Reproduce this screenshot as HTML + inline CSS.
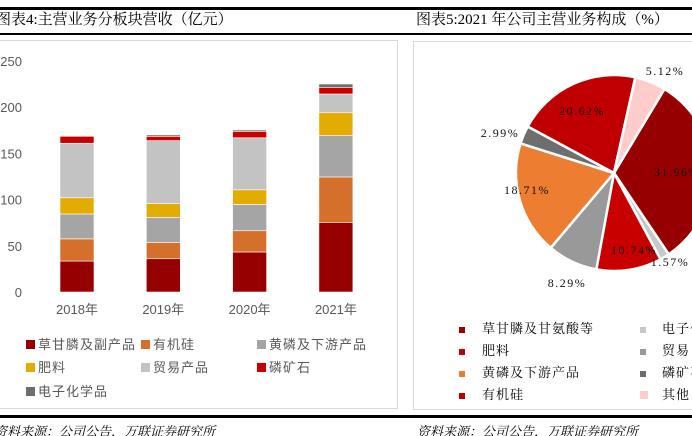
<!DOCTYPE html>
<html><head><meta charset="utf-8"><style>
body{margin:0;width:692px;height:436px;overflow:hidden;background:#fff;position:relative;font-family:"Liberation Serif","Noto Serif CJK SC",serif}
.abs{position:absolute}
.title{position:absolute;top:10px;font-size:15px;color:#000;white-space:nowrap;line-height:20px}
.leg{position:absolute;font-size:13px;color:#595959;white-space:nowrap;letter-spacing:1px;font-family:"Liberation Sans","Noto Sans CJK SC",sans-serif}
.leg i{display:inline-block;width:9px;height:9px;margin-right:3px;vertical-align:0px}
.rleg{position:absolute;font-size:13px;color:#000;white-space:nowrap;letter-spacing:1px;font-family:"Liberation Serif","Noto Serif CJK SC",serif}
.src{position:absolute;top:421px;font-size:13px;font-style:italic;color:#000;white-space:nowrap}
#clip{position:absolute;left:0;top:0;width:692px;height:436px;overflow:hidden}
</style></head><body>
<div id="clip">
<div class="abs" style="left:0;top:7px;width:692px;height:3px;background:#000"></div>
<div class="abs" style="left:0;top:33px;width:692px;height:2px;background:#000"></div>
<div class="title" style="left:-4px">图表4:主营业务分板块营收（亿元）</div>
<div class="title" style="left:416px">图表5:2021 年公司主营业务构成（%）</div>
<div class="abs" style="left:-2px;top:40px;width:398px;height:367px;border:1px solid #d9d9d9"></div>
<div class="abs" style="left:413px;top:41px;width:279px;height:367px;border:1px solid #d9d9d9;border-right:none"></div>
<div class="abs" style="left:0;top:415px;width:692px;height:3px;background:#000"></div>
<div class="src" style="left:-6px">资料来源：公司公告，万联证券研究所</div>
<div class="src" style="left:417px">资料来源：公司公告，万联证券研究所</div>

<svg class="abs" style="left:0;top:0" width="692" height="436" id="chart"></svg>

<div class="leg" style="left:26px;top:334px"><i style="background:#960000"></i>草甘膦及副产品</div>
<div class="leg" style="left:141px;top:334px"><i style="background:#D4702C"></i>有机硅</div>
<div class="leg" style="left:257px;top:334px"><i style="background:#A5A5A5"></i>黄磷及下游产品</div>
<div class="leg" style="left:26px;top:357px"><i style="background:#E2AC00"></i>肥料</div>
<div class="leg" style="left:141px;top:357px"><i style="background:#C3C3C3"></i>贸易产品</div>
<div class="leg" style="left:257px;top:357px"><i style="background:#C80000"></i>磷矿石</div>
<div class="leg" style="left:26px;top:381px"><i style="background:#6E6E6E"></i>电子化学品</div>

<div class="rleg" style="left:459px;top:318px"><span style="display:inline-block;width:6px;height:6px;background:#960000;margin-right:17px"></span>草甘膦及甘氨酸等</div>
<div class="rleg" style="left:459px;top:340px"><span style="display:inline-block;width:6px;height:6px;background:#C80000;margin-right:17px"></span>肥料</div>
<div class="rleg" style="left:459px;top:362px"><span style="display:inline-block;width:6px;height:6px;background:#ED7D31;margin-right:17px"></span>黄磷及下游产品</div>
<div class="rleg" style="left:459px;top:384px"><span style="display:inline-block;width:6px;height:6px;background:#C00000;margin-right:17px"></span>有机硅</div>
<div class="rleg" style="left:640px;top:318px"><span style="display:inline-block;width:6px;height:6px;background:#C8C8C8;margin-right:16px"></span>电子化学品</div>
<div class="rleg" style="left:640px;top:340px"><span style="display:inline-block;width:6px;height:6px;background:#999;margin-right:16px"></span>贸易</div>
<div class="rleg" style="left:640px;top:362px"><span style="display:inline-block;width:6px;height:6px;background:#6E6E6E;margin-right:16px"></span>磷矿石</div>
<div class="rleg" style="left:640px;top:384px"><span style="display:inline-block;width:8px;height:8px;background:#FFCCCC;margin-right:14px"></span>其他</div>
</div>

<script>
const years = ["2018年","2019年","2020年","2021年"];
const glyphosate = [33.5,36,43.3,75.4];
const silicone = [24,17.4,23,49.1];
const yellowP = [27,27.4,28.5,44.7];
const fertilizer = [17.5,14.8,15.8,24.8];
const trade = [59,68.2,56.3,20.3];
const rock = [7.5,4.7,7,6.8];
const electronic = [0,1.5,1.4,4];
const yTicks = [0,50,100,150,200,250];

const pieLabels = ["31.96%","1.57%","10.74%","8.29%","18.71%","2.99%","20.62%","5.12%"];
const pieValues = [31.96,1.57,10.74,8.29,18.71,2.99,20.62,5.12];

const NS="http://www.w3.org/2000/svg";
const svg=document.getElementById('chart');
function mk(tag,attrs){const e=document.createElementNS(NS,tag);for(const k in attrs)e.setAttribute(k,attrs[k]);svg.appendChild(e);return e;}

const y0=292, pxPer=231/250;
const yScale=v=>y0-v*pxPer;
const xCenter=i=>77+i*86.3;
const barW=34;
yTicks.forEach(t=>{
  const tx=mk('text',{x:22,y:yScale(t)+5,'text-anchor':'end','font-size':13,fill:'#595959','font-family':'Liberation Sans, sans-serif'});
  tx.textContent=t;
  
  
});
years.forEach((y,i)=>{
  const tx=mk('text',{x:xCenter(i),y:314,'text-anchor':'middle','font-size':13,fill:'#595959','font-family':'Liberation Sans, Noto Sans CJK SC, sans-serif'});
  tx.textContent=y;
  
  
});
const series=[[glyphosate,'#960000','glyphosate'],[silicone,'#D4702C','silicone'],[yellowP,'#A5A5A5','yellow-phosphorus'],[fertilizer,'#E2AC00','fertilizer'],[trade,'#C3C3C3','trade'],[rock,'#C80000','phosphate-rock'],[electronic,'#6E6E6E','electronic-chem']];
years.forEach((y,i)=>{
  let cum=0;
  series.forEach(([arr,col,nm])=>{
    const v=arr[i]; if(v<=0)return;
    const r=mk('rect',{x:xCenter(i)-barW/2,y:yScale(cum+v),width:barW,height:v*pxPer,fill:col,stroke:'#fff','stroke-width':0.6});
    
    
    cum+=v;
  });
});

const pieColors=['#960000','#C8C8C8','#C80000','#999999','#ED7D31','#6E6E6E','#C00000','#FFCCCC'];
const cx=614, cy=173, R=98;
const labelPos=[[677,176],[670,266],[634,254],[567,287],[527,194],[500,137],[582,115],[665,75]];
const total=pieValues.reduce((a,b)=>a+b,0);
let ang=31*Math.PI/180;
pieValues.forEach((v,i)=>{
  const a2=ang+v/total*2*Math.PI;
  const p=a=>[cx+R*Math.sin(a),cy-R*Math.cos(a)];
  const [x1,y1]=p(ang),[x2,y2]=p(a2);
  const large=(a2-ang)>Math.PI?1:0;
  const path=mk('path',{d:`M${cx},${cy}L${x1},${y1}A${R},${R} 0 ${large} 1 ${x2},${y2}Z`,fill:pieColors[i],stroke:'#fff','stroke-width':2.5});
  
  
  ang=a2;
});
pieLabels.forEach((l,i)=>{
  const tx=mk('text',{x:labelPos[i][0],y:labelPos[i][1],'text-anchor':'middle','font-size':12,'letter-spacing':1.5,fill:'#111','font-family':'Liberation Serif, serif'});
  tx.textContent=l;
  
  
});
</script>
</body></html>
